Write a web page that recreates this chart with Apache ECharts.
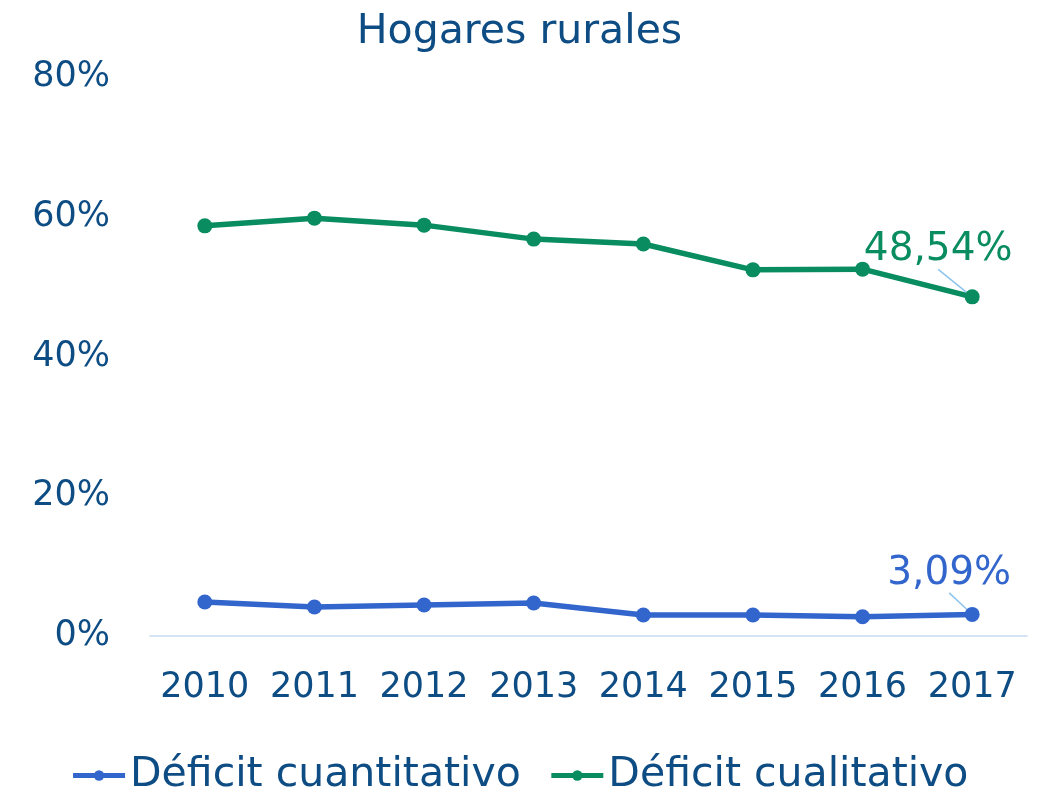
<!DOCTYPE html>
<html><head><meta charset="utf-8">
<script src="https://cdn.jsdelivr.net/npm/echarts@6/dist/echarts.min.js"></script>
<style>html,body{margin:0;padding:0;background:#fff}#c{width:1039px;height:795px}</style>
</head><body><div id="c"></div>
<script>
const years = ['2010','2011','2012','2013','2014','2015','2016','2017'];
const cuantitativo = [4.87, 4.15, 4.44, 4.72, 3.0, 3.0, 2.75, 3.09];
const cualitativo = [58.7, 59.8, 58.8, 56.8, 56.1, 52.4, 52.5, 48.54];
const yTicks = [0, 20, 40, 60, 80];
const FONT = 'DejaVu Sans';
const TXT = '#0E4C84';
const BLUE = '#3366CC';
const GREEN = '#088C60';
const fmt = v => v.toFixed(2).replace('.', ',') + '%';
const last = years.length - 1;
function series(name, arr, col, dx, dy) {
  return {
    name: name, type: 'line', color: col,
    data: arr.map((v, i) => i === last ? {
      value: v,
      label: {show: true, position: 'top', distance: 8, color: col, fontSize: 39, fontFamily: FONT, formatter: p => fmt(p.value)},
      labelLine: {show: true, lineStyle: {color: '#8CC4EE', width: 1.5}}
    } : v),
    symbol: 'circle', symbolSize: 15, lineStyle: {width: 5.5, color: col}, itemStyle: {color: col},
    label: {show: false},
    labelLayout: p => p.dataIndex === last ? {dx: dx, dy: dy} : {}
  };
}
const chart = echarts.init(document.getElementById('c'));
chart.setOption({
  animation: false,
  title: {text: 'Hogares rurales', left: 'center', top: 7, textStyle: {color: TXT, fontSize: 41, fontWeight: 'normal', fontFamily: FONT}},
  grid: {left: 150, right: 12, top: 77, bottom: 159},
  legend: {top: 750, left: 'center', itemWidth: 52, itemHeight: 13, itemGap: 28,
    lineStyle: {width: 5}, textStyle: {color: TXT, fontSize: 41, fontFamily: FONT},
    data: ['Déficit cuantitativo', 'Déficit cualitativo']},
  xAxis: {type: 'category', data: years, boundaryGap: true,
    axisLine: {lineStyle: {color: '#C5DDF2', width: 1.5}}, axisTick: {show: false},
    axisLabel: {color: TXT, fontSize: 35, fontFamily: FONT, margin: 34, interval: 0}},
  yAxis: {type: 'value', min: 0, max: 80, interval: 20,
    axisLine: {show: false}, axisTick: {show: false}, splitLine: {show: false},
    axisLabel: {color: TXT, fontSize: 35, fontFamily: FONT, margin: 40, formatter: v => v + '%'}},
  series: [
    series('Déficit cuantitativo', cuantitativo, BLUE, -23, -6),
    series('Déficit cualitativo', cualitativo, GREEN, -34, -12)
  ]
});
</script></body></html>
